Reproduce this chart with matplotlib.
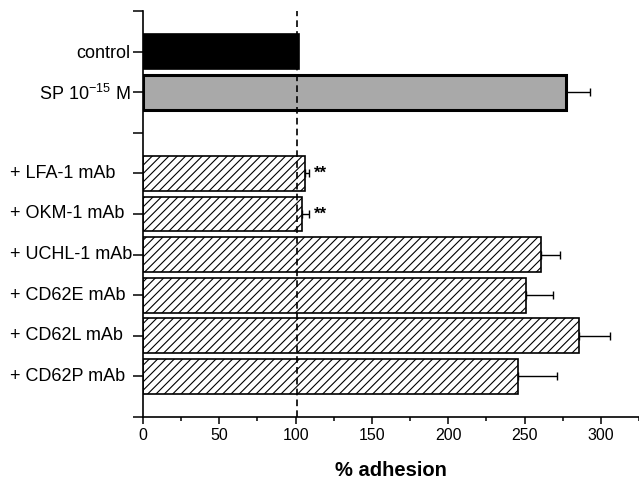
import matplotlib
matplotlib.use("Agg")
import matplotlib.pyplot as plt
import matplotlib.transforms as mtransforms
from matplotlib.ticker import MultipleLocator

plt.rcParams['font.family'] = ['Liberation Sans', 'DejaVu Sans']
plt.rcParams['mathtext.default'] = 'regular'
plt.rcParams['hatch.linewidth'] = 0.8

# Data
top_labels = ["control", "SP 10$^{-15}$ M"]
top_values = [102, 277]
top_errors = [0, 16]

mab_labels = ["+ LFA-1 mAb", "+ OKM-1 mAb", "+ UCHL-1 mAb",
              "+ CD62E mAb", "+ CD62L mAb", "+ CD62P mAb"]
mab_values = [106, 104.5, 261, 251, 286, 246]
mab_errors = [3, 4.5, 12, 17.5, 20, 25]
mab_signif = ["**", "**", "", "", "", ""]

reference_level = 101
xticks_major = [0, 50, 100, 150, 200, 250, 300]

fig = plt.figure(figsize=(6.39, 4.82), dpi=100)
ax = fig.add_axes([143 / 639, 1 - 417 / 482, 1 - 143 / 639, (417 - 11) / 482])

top_pos = [0, 1]
mab_pos = [3, 4, 5, 6, 7, 8]
h = 0.86

ax.barh(top_pos[0], top_values[0], height=h, color='black', edgecolor='black',
        linewidth=1.2, zorder=2)
ax.barh(top_pos[1], top_values[1], height=h, color='#a9a9a9', edgecolor='black',
        linewidth=2.2, zorder=2)
ax.errorbar(top_values[1], top_pos[1], xerr=[[0], [top_errors[1]]], fmt='none',
            ecolor='black', elinewidth=1.0, capsize=3.2, capthick=1.0, zorder=3)

ax.barh(mab_pos, mab_values, height=h, color='white', edgecolor='black',
        linewidth=1.2, hatch='////', zorder=2)
ax.errorbar(mab_values, mab_pos, xerr=[[0] * len(mab_errors), mab_errors], fmt='none',
            ecolor='black', elinewidth=1.0, capsize=3.2, capthick=1.0, zorder=3)

for p, v, e, s in zip(mab_pos, mab_values, mab_errors, mab_signif):
    if s:
        ax.text(v + e + 3, p, s, ha='left', va='center', fontsize=12,
                fontweight='bold')

ax.axvline(reference_level, color='black', linestyle=(0, (4, 2.5)), linewidth=1.2,
           zorder=4)

ax.set_xlim(0, 325)
ax.set_ylim(9, -1)

ax.set_xticks(xticks_major)
ax.xaxis.set_minor_locator(MultipleLocator(25))
ax.tick_params(axis='x', which='major', length=5, width=1.1, labelsize=11.5, pad=3)
ax.tick_params(axis='x', which='minor', length=3, width=1.1)

ax.set_yticks(list(range(-1, 10)))
ylabels = [''] * 11
ylabels[0 + 1] = top_labels[0]
ylabels[1 + 1] = top_labels[1]
ax.set_yticklabels(ylabels)
ax.tick_params(axis='y', length=7, width=1.1, labelsize=13, pad=2)

trans = mtransforms.blended_transform_factory(fig.transFigure, ax.transData)
for p, lab in zip(mab_pos, mab_labels):
    ax.text(10 / 639, p, lab, transform=trans, ha='left', va='center',
            fontsize=13)

for side in ['top', 'right']:
    ax.spines[side].set_visible(False)
for side in ['left', 'bottom']:
    ax.spines[side].set_linewidth(1.2)

ax.set_xlabel('% adhesion', fontsize=14.5, fontweight='bold', labelpad=13)

fig.savefig('out.png', dpi=100)
